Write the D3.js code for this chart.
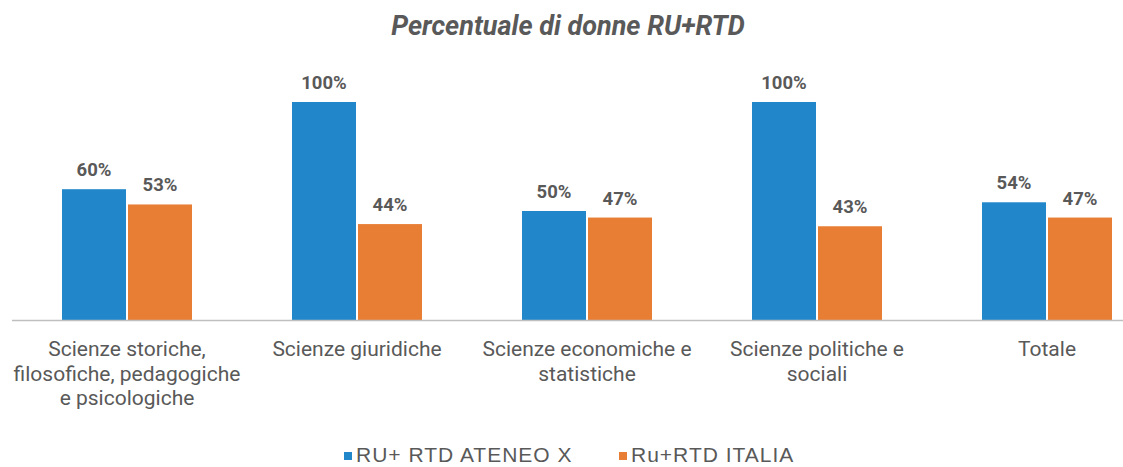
<!DOCTYPE html>
<html><head><meta charset="utf-8">
<script src="https://cdn.jsdelivr.net/npm/d3@7"></script>
<style>body{margin:0;background:#fff}svg{display:block;font-family:Roboto,"Noto Sans",sans-serif}</style>
</head><body><svg id="c" width="1123" height="467"></svg>
<script>
const categories = [
  ["Scienze storiche,", "filosofiche, pedagogiche", "e psicologiche"],
  ["Scienze giuridiche"],
  ["Scienze economiche e", "statistiche"],
  ["Scienze politiche e", "sociali"],
  ["Totale"]
];
const seriesNames = ["RU+ RTD ATENEO X", "Ru+RTD ITALIA"];
const ateneo = [60, 100, 50, 100, 54];
const italia = [53, 44, 47, 43, 47];
const colors = ["#2287CA", "#E87D34"];

const svg = d3.select("#c");
const x = d3.scaleBand().domain(d3.range(categories.length)).range([12, 1162]);
const y = d3.scaleLinear().domain([0, 100]).range([320, 102]);
const barW = 64, gap = 2;
const textCol = "#595959";

svg.append("text").attr("x", 568).attr("y", 35).attr("text-anchor", "middle")
  .attr("font-size", 27).attr("font-weight", "bold").attr("font-style", "italic")
  .attr("fill", textCol).text("Percentuale di donne RU+RTD");

const series = [ateneo, italia];
series.forEach((vals, s) => {
  const g = svg.append("g");
  vals.forEach((v, i) => {
    const cx = x(i) + x.bandwidth() / 2;
    const x0 = s === 0 ? cx - gap / 2 - barW : cx + gap / 2;
    g.append("rect").attr("x", x0).attr("y", y(v)).attr("width", barW)
      .attr("height", y(0) - y(v)).attr("fill", colors[s]);
    g.append("text").attr("x", x0 + barW / 2).attr("y", y(v) - 13)
      .attr("text-anchor", "middle").attr("font-size", 18.5).attr("font-weight", "bold")
      .attr("fill", textCol).text(v + "%");
  });
});

svg.append("line").attr("x1", 12).attr("x2", 1123).attr("y1", 320.5).attr("y2", 320.5)
  .attr("stroke", "#bfbfbf").attr("stroke-width", 1.5);

categories.forEach((lines, i) => {
  const cx = x(i) + x.bandwidth() / 2;
  const t = svg.append("text").attr("text-anchor", "middle").attr("font-size", 21).attr("fill", textCol);
  lines.forEach((l, k) => t.append("tspan").attr("x", cx).attr("y", 356 + k * 24.5).text(l));
});

const legX = [344, 619];
seriesNames.forEach((n, s) => {
  svg.append("rect").attr("x", legX[s]).attr("y", 452).attr("width", 8).attr("height", 8).attr("fill", colors[s]);
  svg.append("text").attr("x", legX[s] + 12).attr("y", 461.5).attr("font-size", 21)
    .attr("letter-spacing", 1)
    .attr("font-family", "'Liberation Sans',Arial,sans-serif").attr("fill", textCol).text(n);
});
</script></body></html>
